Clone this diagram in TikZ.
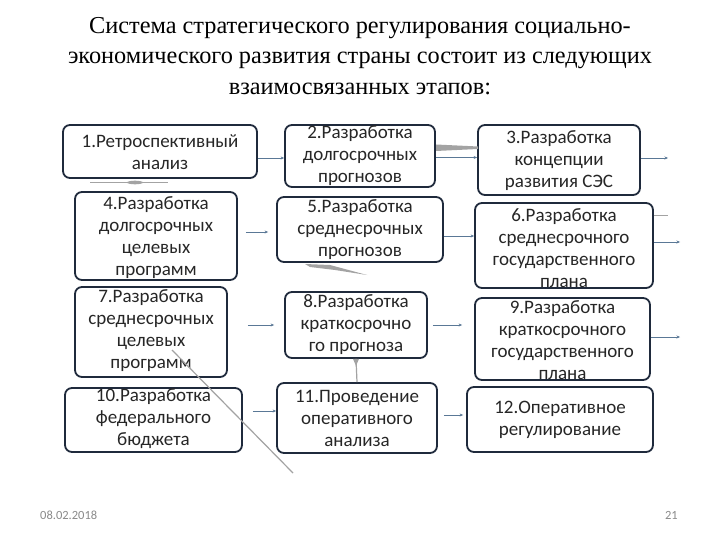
\documentclass[tikz,border=0pt]{standalone}
\usepackage{fontspec}
\setmainfont{Liberation Serif}
\newfontfamily\boxfont{Carlito}
\usetikzlibrary{arrows.meta,calc}
\definecolor{boxline}{HTML}{1F2A3C}
\definecolor{arrcol}{HTML}{5A7896}
\definecolor{txtcol}{HTML}{262626}
\definecolor{decgray}{HTML}{A3A3A3}
\definecolor{footgray}{HTML}{8A8A8A}
\begin{document}
\begin{tikzpicture}[x=1pt,y=-1pt,
 box/.style={draw=boxline, line width=1.8pt, rounded corners=7pt, fill=white, inner sep=0pt},
 txt/.style={font=\boxfont\fontsize{19}{22}\selectfont, text=txtcol, align=center, inner sep=0pt},
 arr/.style={draw=arrcol, line width=0.8pt, -{Stealth[length=3.5pt,width=3pt]}},
 deco/.style={draw=decgray, line width=1.2pt},
 title/.style={font=\fontsize{24.3}{30.5}\selectfont, text=black, align=center, inner sep=0pt},
 foot/.style={font=\boxfont\fontsize{12.5}{14}\selectfont, text=footgray, inner sep=0pt}]
\useasboundingbox (0,0) rectangle (720,540);
\fill[white] (0,0) rectangle (720,540);

\node[title] (title) at (360,56) {Система стратегического регулирования социально-\\экономического развития страны состоит из следующих\\взаимосвязанных этапов:};

% boxes
\node[box, minimum width=194pt, minimum height=53pt] (b1) at (160,151.5) {};
\node[box, minimum width=150pt, minimum height=62pt] (b2) at (360,156) {};
\node[box, minimum width=162pt, minimum height=70pt] (b3) at (559,160) {};
\node[box, minimum width=162pt, minimum height=88pt] (b4) at (156,236) {};
\node[box, minimum width=166pt, minimum height=65pt] (b5) at (360,229.5) {};
\node[box, minimum width=178pt, minimum height=85pt] (b6) at (564,245.5) {};
\node[box, minimum width=152pt, minimum height=90pt] (b7) at (151,332) {};
\node[box, minimum width=142pt, minimum height=66pt] (b8) at (356,325) {};
\node[box, minimum width=175pt, minimum height=82pt] (b9) at (562.5,339) {};
\node[box, minimum width=177pt, minimum height=64pt] (b10) at (153.5,420) {};
\node[box, minimum width=160pt, minimum height=70pt] (b11) at (357,418) {};
\node[box, minimum width=186pt, minimum height=65pt] (b12) at (560,419.5) {};

% texts
\node[txt] (t1) at (160,152) {1.Ретроспективный\\анализ};
\node[txt] (t2) at (360,156) {2.Разработка\\долгосрочных\\прогнозов};
\node[txt] (t3) at (559,161) {3.Разработка\\концепции\\развития СЭС};
\node[txt] (t4) at (156,238) {4.Разработка\\долгосрочных\\целевых\\программ};
\node[txt] (t5) at (360,230) {5.Разработка\\среднесрочных\\прогнозов};
\node[txt] (t6) at (564,248) {6.Разработка\\среднесрочного\\государственного\\плана};
\node[txt] (t7) at (151,331) {7.Разработка\\среднесрочных\\целевых\\программ};
\node[txt] (t8) at (356,325) {8.Разработка\\краткосрочно\\го прогноза};
\node[txt] (t9) at (562.5,340) {9.Разработка\\краткосрочного\\государственного\\плана};
\node[txt] (t10) at (153.5,419) {10.Разработка\\федерального\\бюджета};
\node[txt] (t11) at (357,418) {11.Проведение\\оперативного\\анализа};
\node[txt] (t12) at (560,420) {12.Оперативное\\регулирование};

% free ends
\coordinate (o3) at (668,158);
\coordinate (o6a) at (668,215);
\coordinate (o6) at (680,242);
\coordinate (o9) at (680,337);

% connectors
\draw[arr] (b1.east |- 0,158) -- (b2.west |- 0,158);
\draw[arr] (b2.east |- 0,157.5) -- (b3.west |- 0,157.5);
\draw[arr] (b3.east |- 0,158) -- (o3);
\draw[arr] ($(b4.east |- 0,232)+(8,0)$) -- ($(b5.west |- 0,232)+(-8,0)$);
\draw[arr] (b5.east |- 0,236) -- (b6.west |- 0,236);
\draw[draw=decgray, line width=0.8pt] (b6.east |- o6a) -- (o6a);
\draw[arr] (b6.east |- o6) -- (o6);
\draw[arr] ($(b7.east |- 0,325)+(20,0)$) -- ($(b8.west |- 0,325)+(-10,0)$);
\draw[arr] ($(b8.east |- 0,325)+(5,0)$) -- ($(b9.west |- 0,325)+(-12,0)$);
\draw[arr] (b9.east |- o9) -- (o9);
\draw[arr] ($(b10.east |- 0,411)+(10,0)$) -- (b11.west |- 0,411);
\draw[arr] ($(b11.east |- 0,415)+(6,0)$) -- ($(b12.west |- 0,415)+(-3,0)$);

% decorative grey marks
\draw[deco] (90,182.5) -- (168,182.5);
\fill[decgray] (135,182.5) ellipse (8pt and 1.8pt);
\fill[decgray] (436,144.5) -- (478,146.5) -- (478,149) -- (436,151) -- cycle;
\fill[decgray] (305,264) -- (330,265) -- (367,275) -- (335,270) -- (310,267) -- cycle;
\draw[deco] (b8.south) -- (b11.north);
\fill[decgray] ($(b8.south)+(-3,0)$) -- ($(b8.south)+(3,0)$) -- ($(b8.south)+(0,7)$) -- cycle;
\draw[deco] (172,350) -- (293,473);

% footer
\node[foot, anchor=west] (date) at (40,515) {08.02.2018};
\node[foot, anchor=east] (page) at (678,515) {21};
\end{tikzpicture}
\end{document}
